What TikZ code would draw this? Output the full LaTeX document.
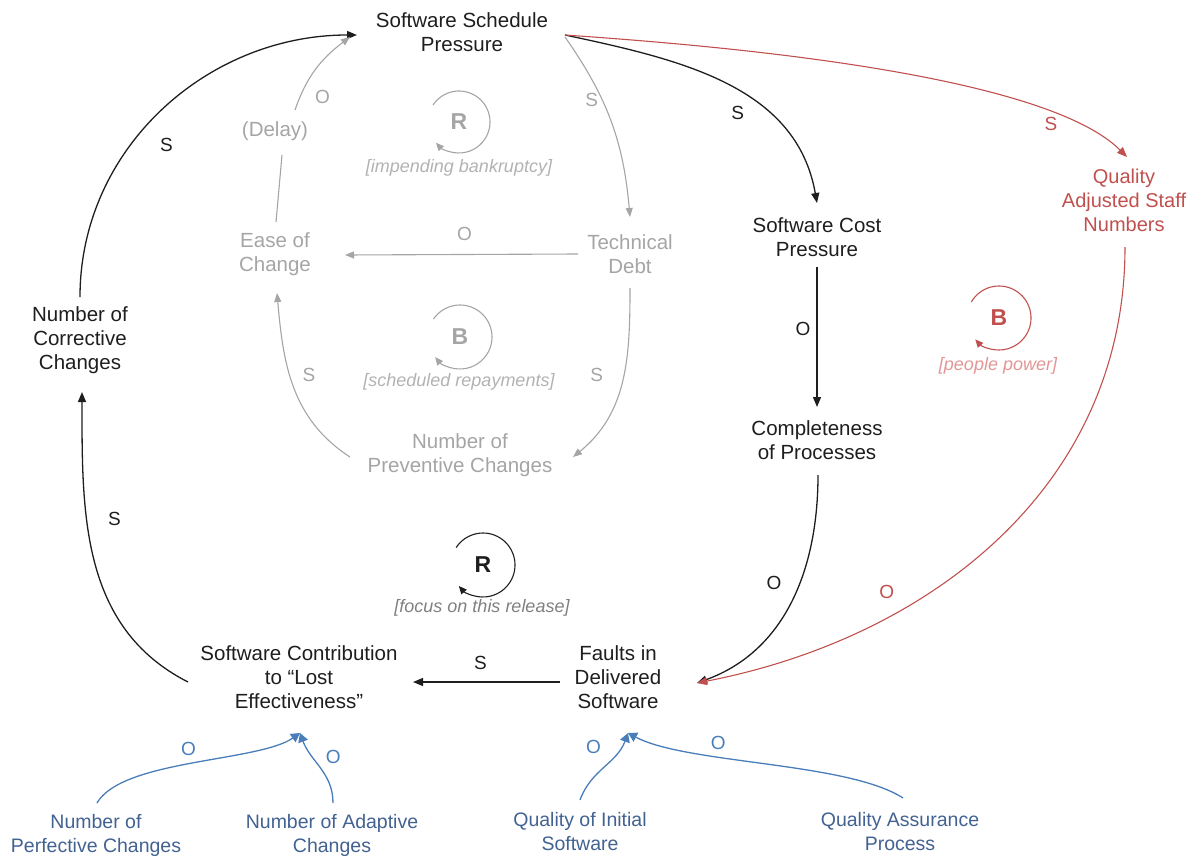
\documentclass[tikz,border=0pt]{standalone}
\usepackage{fontspec}
\setmainfont{Liberation Sans}
\usetikzlibrary{positioning,arrows.meta}
\definecolor{inkblack}{RGB}{30,30,30}
\definecolor{debtgray}{RGB}{165,165,165}
\definecolor{notegray}{RGB}{178,178,178}
\definecolor{focusgray}{RGB}{128,128,128}
\definecolor{staffred}{RGB}{192,80,77}
\definecolor{notered}{RGB}{226,150,150}
\definecolor{extblue}{RGB}{66,98,146}
\definecolor{linkblue}{RGB}{74,126,187}

\begin{document}
\begin{tikzpicture}[
    x=1pt, y=1pt,
    var/.style={align=center, font=\fontsize{20.5}{24}\selectfont, text=inkblack, inner sep=2pt},
    debtvar/.style={var, text=debtgray},
    staffvar/.style={var, font=\fontsize{20}{24}\selectfont, text=staffred},
    extvar/.style={var, font=\fontsize{19.5}{24}\selectfont, text=extblue},
    lbl/.style={font=\fontsize{19}{22}\selectfont, inner sep=0pt},
    loopmark/.style={font=\fontsize{23}{26}\selectfont\bfseries, inner sep=0pt},
    loopnote/.style={font=\fontsize{18}{20}\selectfont\itshape, inner sep=0pt},
    link/.style={-{Triangle[length=10pt,width=8pt]}, line width=1.3pt, color=inkblack},
    debtline/.style={line width=1.1pt, color=debtgray},
    debtlink/.style={debtline, -{Triangle[length=9pt,width=7pt]}},
    stafflink/.style={-{Triangle[length=10pt,width=8pt]}, line width=1.1pt, color=staffred},
    extlink/.style={-{Triangle[length=9pt,width=10pt]}, line width=1.3pt, color=linkblue},
    looparc/.style={-{Triangle[length=8pt,width=7pt]}, line width=1.1pt}
]
\useasboundingbox (0,0) rectangle (1190,-859);

\node[var] (sched) at (462,-32) {Software Schedule\\Pressure};
\node[var] (cost) at (817,-237) {Software Cost\\Pressure};
\node[var] (compl) at (817,-440) {Completeness\\of Processes};
\node[var] (faults) at (618,-677) {Faults in\\Delivered\\Software};
\node[var] (contrib) at (299,-677) {Software Contribution\\to “Lost\\Effectiveness”};
\node[var] (corr) at (80,-340) {Number of\\Corrective\\Changes};
\node[staffvar] (staff) at (1124,-200) {Quality\\Adjusted Staff\\Numbers};

\node[debtvar] (debt) at (630,-254) {Technical\\Debt};
\node[debtvar] (ease) at (275,-254) {Ease of\\Change};
\node[debtvar] (prev) at (460,-455) {Number of\\Preventive Changes};
\node[debtvar] (delay) at (275,-131) {(Delay)};

\node[extvar] (perf) at (96,-835) {Number of\\Perfective Changes};
\node[extvar] (adapt) at (332,-835) {Number of Adaptive\\Changes};
\node[extvar] (init) at (580,-832) {Quality of Initial\\Software};
\node[extvar] (qa) at (900,-832) {Quality Assurance\\Process};

\node[loopmark, text=debtgray] (bankrupt) at (459,-122) {R};
\draw[looparc, debtgray] ([shift={(147:31)}]bankrupt.center) arc[start angle=147, end angle=-138, radius=31];
\node[loopnote, text=notegray] (bankruptnote) at (459,-168) {[impending bankruptcy]};

\node[loopmark, text=debtgray] (repay) at (460,-337) {B};
\draw[looparc, debtgray] ([shift={(146:32)}]repay.center) arc[start angle=146, end angle=-141, radius=32];
\node[loopnote, text=notegray] (repaynote) at (459,-382) {[scheduled repayments]};

\node[loopmark, text=staffred] (people) at (999,-318) {B};
\draw[looparc, staffred] ([shift={(150:32)}]people.center) arc[start angle=150, end angle=-138, radius=32];
\node[loopnote, text=notered] (peoplenote) at (998,-366) {[people power]};

\node[loopmark, text=inkblack] (focus) at (483,-565) {R};
\draw[looparc, inkblack] ([shift={(147:32)}]focus.center) arc[start angle=147, end angle=-139, radius=32];
\node[loopnote, text=focusgray] (focusnote) at (482,-608) {[focus on this release]};

\draw[link] ([shift={(0,43)}]corr.center) to[out=90, in=180] node[lbl, pos=0.4, shift={(32,-5)}] {S} ([shift={(-105,-3)}]sched.center);
\draw[link] ([shift={(-111,-5)}]contrib.center) to[out=153, in=-90] node[lbl, pos=0.6, shift={(26,11)}] {S} ([shift={(2,-52)}]corr.center);
\draw[link] ([shift={(-58,-5)}]faults.center) -- node[lbl, midway, shift={(-6,19)}] {S} ([shift={(114,-5)}]contrib.center);
\draw[link] ([shift={(103,-3)}]sched.center) to[out=-12, in=100] node[lbl, pos=0.6, shift={(-15,-12)}] {S} ([shift={(0,34)}]cost.center);
\draw[link] ([shift={(0,-30)}]cost.center) -- node[lbl, midway, shift={(-14,8)}] {O} ([shift={(0,33)}]compl.center);
\draw[link] ([shift={(1,-35)}]compl.center) to[out=-90, in=20] node[lbl, pos=0.45, shift={(-22,8)}] {O} ([shift={(79,-6)}]faults.center);

\draw[stafflink] ([shift={(103,-3)}]sched.center) to[out=-4, in=135, looseness=0.55] node[lbl, pos=0.8, shift={(4,-12)}] {S} ([shift={(3,43)}]staff.center);
\draw[stafflink] ([shift={(1,-47)}]staff.center) to[out=-90, in=11] node[lbl, pos=0.7, shift={(-6,22)}] {O} ([shift={(79,-6)}]faults.center);

\draw[debtlink] ([shift={(103,-5)}]sched.center) to[out=-55, in=95] node[lbl, pos=0.35, shift={(-9,-3)}] {S} ([shift={(0,37)}]debt.center);
\draw[debtlink] ([shift={(-52,0)}]debt.center) -- node[lbl, midway, shift={(3,21)}] {O} ([shift={(70,-1)}]ease.center);
\draw[debtlink] ([shift={(0,-34)}]debt.center) to[out=-90, in=39] node[lbl, pos=0.5, shift={(-25,7)}] {S} ([shift={(113,-2)}]prev.center);
\draw[debtlink] ([shift={(-110,-2)}]prev.center) to[out=147, in=-85] node[lbl, pos=0.55, shift={(18,4)}] {S} ([shift={(2,-39)}]ease.center);
\draw[debtline] ([shift={(1,32)}]ease.center) -- ([shift={(7,-24)}]delay.center);
\draw[debtlink] ([shift={(20,21)}]delay.center) to[out=71, in=217] node[lbl, pos=0.15, shift={(22,-1)}] {O} ([shift={(-112,-5)}]sched.center);

\draw[extlink] ([shift={(1,32)}]perf.center) to[out=60, in=215, looseness=0.6] node[lbl, pos=0.5, shift={(-4,14)}] {O} ([shift={(1,-56)}]contrib.center);
\draw[extlink] ([shift={(1,32)}]adapt.center) to[out=90, in=-70] node[lbl, pos=0.5, shift={(13,10)}] {O} ([shift={(1,-56)}]contrib.center);
\draw[extlink] ([shift={(0,32)}]init.center) to[out=70, in=-110] node[lbl, pos=0.75, shift={(-24,5)}] {O} ([shift={(10,-56)}]faults.center);
\draw[extlink] ([shift={(3,34)}]qa.center) to[out=147, in=-28, looseness=0.6] node[lbl, pos=0.65, shift={(0,14)}] {O} ([shift={(10,-56)}]faults.center);

\end{tikzpicture}
\end{document}
